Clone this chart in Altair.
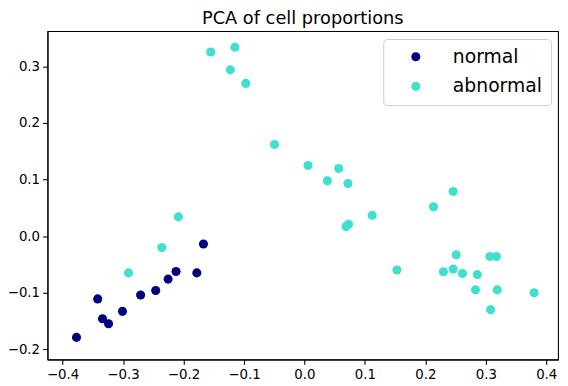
import altair as alt
import pandas as pd

normal_x = [-0.377, -0.342, -0.334, -0.324, -0.301, -0.271, -0.246, -0.2255, -0.2124, -0.178, -0.167]
normal_y = [-0.179, -0.111, -0.146, -0.155, -0.133, -0.104, -0.096, -0.076, -0.0624, -0.065, -0.014]

abnormal_x = [-0.291, -0.236, -0.2085, -0.0495, -0.155, -0.115, -0.1225, -0.097,
              0.006, 0.0567, 0.038, 0.072, 0.112, 0.069, 0.073, 0.153, 0.2136, 0.246,
              0.251, 0.230, 0.246, 0.2614, 0.286, 0.3067, 0.3176, 0.283, 0.319, 0.308, 0.380]
abnormal_y = [-0.065, -0.020, 0.034, 0.162, 0.3255, 0.334, 0.294, 0.270,
              0.125, 0.1195, 0.098, 0.093, 0.037, 0.017, 0.021, -0.060, 0.052, 0.079,
              -0.033, -0.063, -0.058, -0.066, -0.068, -0.036, -0.036, -0.095, -0.095, -0.130, -0.100]

groups = ["normal", "abnormal"]
colors = ["#000080", "#40e0d0"]
x_ticks = [-0.4, -0.3, -0.2, -0.1, 0.0, 0.1, 0.2, 0.3, 0.4]
y_ticks = [-0.2, -0.1, 0.0, 0.1, 0.2, 0.3]

df = pd.DataFrame({
    "pc1": normal_x + abnormal_x,
    "pc2": normal_y + abnormal_y,
    "group": ["normal"] * len(normal_x) + ["abnormal"] * len(abnormal_x),
})

FONT = "DejaVu Sans"

chart = alt.Chart(df).mark_circle(size=85, opacity=1).encode(
    x=alt.X("pc1:Q",
            scale=alt.Scale(domain=[-0.425, 0.4195], nice=False, zero=False),
            axis=alt.Axis(values=x_ticks, format=".1f", title=None)),
    y=alt.Y("pc2:Q",
            scale=alt.Scale(domain=[-0.218, 0.3625], nice=False, zero=False),
            axis=alt.Axis(values=y_ticks, format=".1f", title=None)),
    color=alt.Color("group:N",
                    scale=alt.Scale(domain=groups, range=colors),
                    legend=alt.Legend(title=None, orient="none", legendX=340, legendY=8,
                                      strokeColor="#cccccc", fillColor="white",
                                      cornerRadius=4, padding=8.5,
                                      labelFontSize=19, labelFont=FONT, labelColor="black",
                                      symbolSize=85, symbolType="circle",
                                      symbolOffset=15, labelOffset=28, rowPadding=10,
                                      symbolStrokeWidth=0)),
).properties(
    width=517,
    height=332.5,
    title=alt.Title("PCA of cell proportions", fontSize=18, font=FONT,
                    fontWeight="normal", color="black", offset=3),
    autosize=alt.AutoSizeParams(type="none"),
    padding={"left": 40, "top": 21, "right": 2, "bottom": 24},
).configure_view(
    stroke="black", strokeWidth=1.1
).configure_axis(
    domainColor="black", domainWidth=1.1, tickColor="black", tickSize=5, tickWidth=1.1,
    labelColor="black", labelFont=FONT, labelFontSize=13.5, labelPadding=3, grid=False,
)

chart.save("out.html", embed_options={"renderer": "svg", "actions": False})
